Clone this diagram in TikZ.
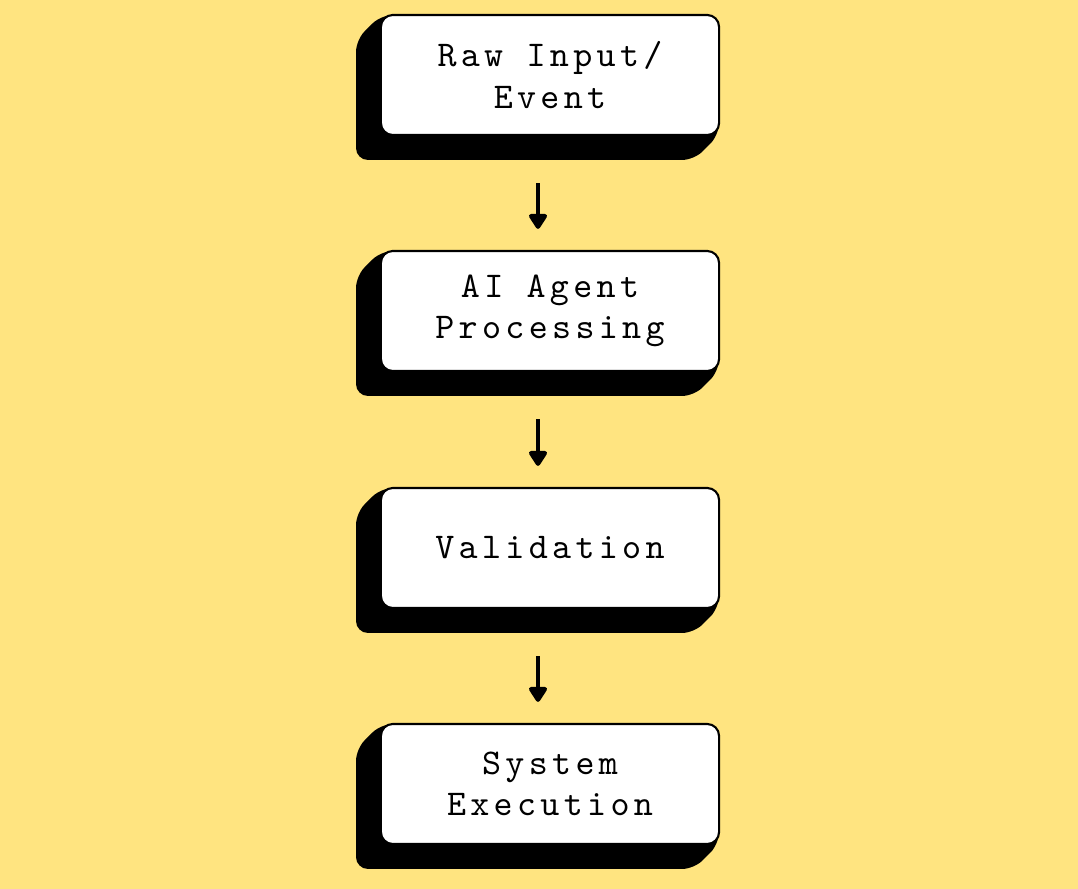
\documentclass[tikz,border=0pt]{standalone}
\usepackage{fontspec}
\newfontfamily\boxfont{Latin Modern Mono}[LetterSpace=12]
\usepackage{tikz}
\usetikzlibrary{arrows.meta}
\definecolor{bgyellow}{HTML}{FFE480}

\tikzset{
    stepbox/.style={draw=black, line width=0.6pt, fill=white, rounded corners=3.4pt,
        minimum width=3.38cm, minimum height=1.2cm, align=center, inner sep=0pt,
        font=\boxfont\fontsize{10.3}{11.7}\selectfont},
    flowarrow/.style={line width=1.2pt, -{Triangle[width=5.8pt,length=4.8pt,round]}}
}

\begin{document}
\begin{tikzpicture}[x=0.01cm, y=0.01cm]
        \fill[bgyellow] (0,0) rectangle (1078,-889);
        \useasboundingbox (0,0) rectangle (1078,-889);
        % shadows first, then the white boxes on top
        \foreach \n/\y/\t in {raw/75/{Raw Input/\\Event}, agent/311/{AI Agent\\Processing},
                valid/548/{Validation}, exec/784/{System\\Execution}}
        {
            \fill[black, rounded corners=3.4pt] (550-169, -\y+60) -- (550-194, -\y+35)
                -- (550-194, -\y-85) -- (550+144, -\y-85) -- (550+169, -\y-60)
                -- (550+169, -\y+60) -- cycle;
            \node[stepbox] (\n) at (550, -\y) {\t};
        }
        \draw[flowarrow] ([shift={(-12,-47)}]raw.south) -- ([shift={(-12,21)}]agent.north);
        \draw[flowarrow] ([shift={(-12,-47)}]agent.south) -- ([shift={(-12,21)}]valid.north);
        \draw[flowarrow] ([shift={(-12,-47)}]valid.south) -- ([shift={(-12,21)}]exec.north);
    \end{tikzpicture}
\end{document}
